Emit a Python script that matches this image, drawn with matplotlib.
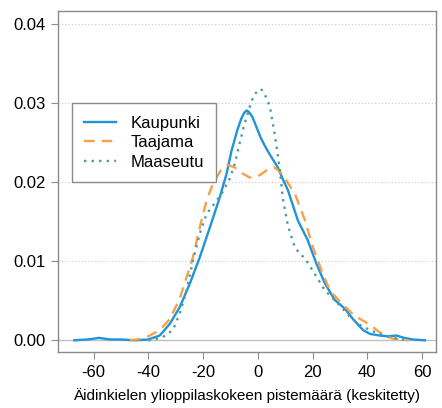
import matplotlib
matplotlib.use("Agg")
import matplotlib.pyplot as plt

plt.rcParams["font.family"] = ["Liberation Sans", "DejaVu Sans"]

# Density curves (x = centred score, y = density)
kaupunki_x = [-67, -62, -58, -54, -50, -45, -40, -35.8, -32.1, -28.5, -24.8, -21.2,
              -17.5, -13.9, -11.4, -9.6, -7.5, -6, -5, -4.1, -3.2, -2, -0.5, 1, 2.6,
              4.4, 7.3, 9, 11, 14.6, 18.2, 21.4, 24.5, 28.1, 31.8, 34.7, 38.4, 41,
              44.5, 47.5, 50.6, 53.5, 56.6, 61]
kaupunki_y = [0, 0.0001, 0.0003, 0.0001, 0.0001, 0, 0.0001, 0.0006, 0.0021, 0.0042,
              0.0072, 0.0105, 0.0143, 0.0181, 0.0211, 0.0240, 0.0266, 0.0281,
              0.0288, 0.0291, 0.0289, 0.0283, 0.0270, 0.0257, 0.0246, 0.0235,
              0.0219, 0.0205, 0.0190, 0.0152, 0.0127, 0.0097, 0.0072, 0.0051,
              0.0040, 0.0027, 0.0013, 0.0008, 0.0006, 0.0005, 0.0006, 0.0003,
              0.0001, 0]

taajama_x = [-46.7, -42, -39.4, -35.8, -32.1, -28.5, -26, -23.7, -21.2, -18.7, -16.4,
             -13.6, -11, -8.5, -6, -2.9, 0.7, 3.5, 6, 8, 9.9, 13.5, 17.2, 20.1,
             23.2, 26.3, 30.5, 34.7, 37.8, 40.9, 44.5, 47, 49.3, 55]
taajama_y = [0, 0.0002, 0.0006, 0.0013, 0.0027, 0.0053, 0.0080, 0.0105, 0.0143,
             0.0177, 0.0198, 0.0215, 0.0222, 0.0219, 0.0212, 0.0206, 0.0209,
             0.0216, 0.0219, 0.0214, 0.0205, 0.0186, 0.0152, 0.0118, 0.0089,
             0.0063, 0.0047, 0.0033, 0.0026, 0.0020, 0.0010, 0.0005, 0.0002, 0]

maaseutu_x = [-40, -37.6, -34.7, -31, -28.5, -26, -23.7, -21.2, -18.7, -15, -12.8,
              -10.2, -8.4, -6.6, -5, -3, -1.5, 0.5, 1.5, 3, 4.4, 6.2, 8, 9.1, 11,
              13.5, 15.5, 17.2, 20.8, 24.5, 29.2, 33.6, 37, 40.9, 44.5, 48.2, 51, 54]
maaseutu_y = [0, 0.0001, 0.0004, 0.0013, 0.0034, 0.0063, 0.0101, 0.0135, 0.0160,
              0.0177, 0.0188, 0.0205, 0.0224, 0.0250, 0.0272, 0.0295, 0.0310,
              0.0318, 0.0317, 0.0308, 0.0296, 0.0260, 0.0218, 0.0180, 0.0145,
              0.0118, 0.0109, 0.0104, 0.0084, 0.0063, 0.0047, 0.0030, 0.0020,
              0.0013, 0.0008, 0.0004, 0.0002, 0]

x_ticks = [-60, -40, -20, 0, 20, 40, 60]
y_ticks = [0.00, 0.01, 0.02, 0.03, 0.04]

BLUE = "#2094d8"
ORANGE = "#f7a04c"
TEAL = "#4b9c9c"
FRAME = "#8a8a8a"

fig = plt.figure(figsize=(4.42, 4.08), dpi=100)
ax = fig.add_axes([0.131, 0.137, 0.855, 0.836])

for y in y_ticks[1:]:
    ax.axhline(y, color="#c8c8c8", linewidth=0.8, linestyle=(0, (1, 2)), zorder=0)
ax.axhline(0, color="#c0c0c0", linewidth=1.0, zorder=0)

ax.plot(kaupunki_x, kaupunki_y, color=BLUE, linewidth=1.7, label="Kaupunki")
ax.plot(taajama_x, taajama_y, color=ORANGE, linewidth=1.7,
        linestyle=(0, (4.5, 3)), label="Taajama")
ax.plot(maaseutu_x, maaseutu_y, color=TEAL, linewidth=1.7,
        linestyle=(0, (1, 2.2)), label="Maaseutu")

ax.set_xlim(-73, 65)
ax.set_ylim(-0.0015, 0.0417)
ax.set_xticks(x_ticks)
ax.set_xticklabels([str(v) for v in x_ticks])
ax.set_yticks(y_ticks)
ax.set_yticklabels([f"{v:.2f}" for v in y_ticks])
ax.tick_params(length=5, color=FRAME, labelsize=12, labelcolor="black", pad=4)
for spine in ax.spines.values():
    spine.set_color(FRAME)
    spine.set_linewidth(1.0)

ax.set_xlabel("Äidinkielen ylioppilaskokeen pistemäärä (keskitetty)",
              fontsize=11, labelpad=6)

leg = ax.legend(loc="upper left", bbox_to_anchor=(0.037, 0.73), fontsize=12,
                fancybox=False, framealpha=1, edgecolor=FRAME,
                handlelength=1.9, handletextpad=0.85, borderpad=0.75,
                labelspacing=0.28, borderaxespad=0)
leg.get_frame().set_linewidth(1.0)

fig.savefig("out.png", dpi=100)
